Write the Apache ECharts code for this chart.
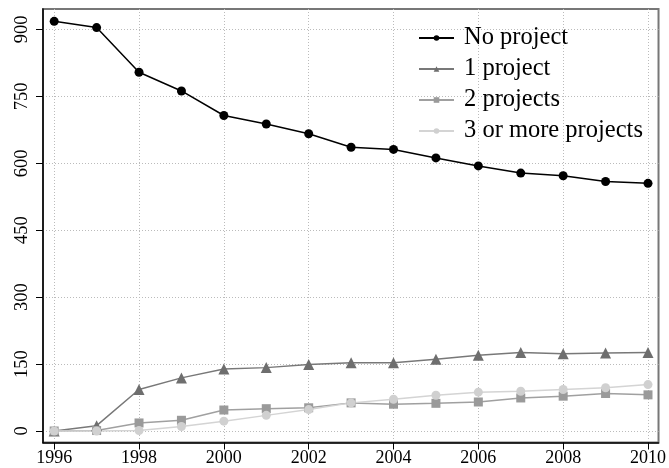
<!DOCTYPE html>
<html>
<head>
<meta charset="utf-8">
<script src="https://cdn.jsdelivr.net/npm/echarts@6/dist/echarts.min.js"></script>
<style>
html,body{margin:0;padding:0;background:#fff;}
#chart{width:669px;height:468px;}
</style>
</head>
<body>
<div id="chart"></div>
<script>
var years = [1996,1997,1998,1999,2000,2001,2002,2003,2004,2005,2006,2007,2008,2009,2010];
var noProject = [918,904,804,762,707,688,666,636,631,612,594,578,572,559,555];
var oneProject = [0,12,93,119,139,142,149,153,153,161,170,176,173,175,176];
var twoProjects = [0,1,18,24,47,50,52,63,60,62,65,74,78,84,81];
var threePlus = [0,0,1,10,22,35,48,63,71,80,87,89,93,97,104];
var xTicks = [1996,1998,2000,2002,2004,2006,2008,2010];
var yTicks = [0,150,300,450,600,750,900];
var seriesNames = ['No project','1 project','2 projects','3 or more projects'];

function pairs(vals){ return years.map(function(y,i){ return [y, vals[i]]; }); }

var FONT = '"Liberation Serif","DejaVu Serif",serif';
var chart = echarts.init(document.getElementById('chart'), null, {renderer:'canvas'});

function mk(name, vals, color, lineColor, symbol, size){
  return {
    name: name, type: 'line', data: pairs(vals),
    symbol: symbol, symbolSize: size, showSymbol: true,
    itemStyle: {color: color, borderWidth: 0},
    lineStyle: {color: lineColor, width: 1.5},
    emphasis: {disabled: true},
    animation: false
  };
}

chart.setOption({
  backgroundColor: '#fff',
  animation: false,
  grid: {
    left: 43, right: 6, top: 9, bottom: 25.5,
    show: true, borderColor: '#777', borderWidth: 2, backgroundColor: 'transparent'
  },
  legend: {
    orient: 'vertical', left: 413, top: 20,
    itemWidth: 35, itemHeight: 7, itemGap: 5,
    data: seriesNames,
    textStyle: {fontFamily: FONT, fontSize: 24.5, color: '#000', lineHeight: 26, padding: [0,0,0,5]}
  },
  xAxis: {
    type: 'value', min: 1995.736, max: 2010.248,
    axisLine: {show: true, onZero: false, lineStyle: {color: '#000', width: 1.5}},
    axisTick: {show: true, length: 7, inside: false, customValues: xTicks, lineStyle: {color: '#000', width: 1}},
    axisLabel: {show: true, customValues: xTicks, margin: 7, fontFamily: FONT, fontSize: 18, color: '#000',
      formatter: function(v){ return String(v); }},
    splitLine: {show: true, lineStyle: {color: '#bbb', width: 1, type: [1, 2]}}
  },
  yAxis: {
    type: 'value', min: -25.8, max: 945.7,
    axisLine: {show: true, onZero: false, lineStyle: {color: '#000', width: 1.5}},
    axisTick: {show: true, length: 7, inside: false, customValues: yTicks, lineStyle: {color: '#000', width: 1}},
    axisLabel: {show: true, customValues: yTicks, rotate: 90, margin: 11, fontFamily: FONT, fontSize: 18.5, color: '#000',
      formatter: function(v){ return String(v); }},
    splitLine: {show: true, lineStyle: {color: '#bbb', width: 1, type: [1, 2]}}
  },
  series: [
    mk(seriesNames[0], noProject, '#000', '#000', 'circle', 9),
    mk(seriesNames[1], oneProject, '#6e6e6e', '#787878', 'triangle', 11),
    mk(seriesNames[2], twoProjects, '#9a9a9a', '#a0a0a0', 'rect', 9),
    mk(seriesNames[3], threePlus, '#d0d0d0', '#d4d4d4', 'circle', 9)
  ]
});
</script>
</body>
</html>
